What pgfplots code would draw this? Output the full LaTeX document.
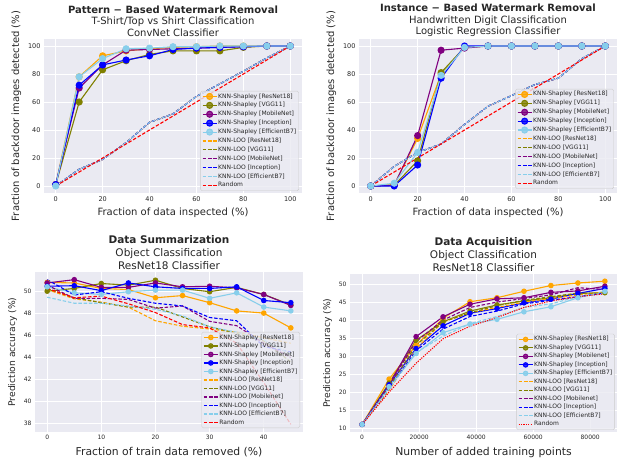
\documentclass[border=0pt]{standalone}
\usepackage{fontspec}
\setmainfont{DejaVu Sans}
\usepackage{pgfplots}
\pgfplotsset{compat=1.18}

\definecolor{sbbg}{HTML}{EAEAF2}
\definecolor{sbtext}{HTML}{262626}
\definecolor{cOrange}{HTML}{FFA500}
\definecolor{cOlive}{HTML}{808000}
\definecolor{cPurple}{HTML}{800080}
\definecolor{cBlue}{HTML}{0000FF}
\definecolor{cSky}{HTML}{87CEEB}
\definecolor{cRed}{HTML}{FF0000}

\pgfplotsset{
  sb/.style={
    scale only axis, anchor=south west,
    axis background/.style={fill=sbbg},
    axis line style={draw=none},
    major tick length=0pt,
    grid=major, major grid style={white, line width=0.9pt},
    /pgf/number format/assume math mode=true,
    tick label style={text=sbtext},
    label style={text=sbtext, font=\fontsize{10}{12}\selectfont},
    title style={text=sbtext, align=center, inner sep=0pt, at={(0.5,1)}, anchor=south, yshift=-4pt},
    legend cell align=left,
    legend style={fill=sbbg, fill opacity=0.8, text opacity=1, draw=black!20,
      rounded corners=1.5pt, text=sbtext, inner sep=1.5pt,
      font=\fontsize{6}{7}\selectfont,
      nodes={inner sep=1pt, text height=4.4pt, text depth=1.3pt}},
    legend image code/.code={\draw[mark repeat=2,mark phase=2]
      plot coordinates {(0pt,0pt) (7pt,0pt) (14pt,0pt)};},
  },
  shp/.style={color=#1, mark=*, line width=1.1pt, mark options={solid}},
  loo/.style={color=#1, line width=1.1pt, dash pattern=on 3.5pt off 1.8pt},
}

\begin{document}
\begin{tikzpicture}
\useasboundingbox (0,0) rectangle (621pt,459pt);

% ---------------- Pattern-based watermark removal
\begin{axis}[sb, at={(44pt,266pt)}, width=258pt, height=154pt,
  xmin=-5, xmax=105, ymin=-5, ymax=105,
  xtick={0,20,...,100}, ytick={0,20,...,100},
  tick label style={font=\fontsize{6.5}{7}\selectfont},
  every axis plot/.append style={mark size=3pt},
  xlabel={Fraction of data inspected (\%)},
  ylabel={Fraction of backdoor images detected (\%)},
  title style={font=\fontsize{10}{11.7}\selectfont},
  title={\textbf{Pattern − Based Watermark Removal}\\T-Shirt/Top vs Shirt Classification\\ConvNet Classifier},
  legend style={at={(rel axis cs:0.988,0.013)}, anchor=south east, row sep=1.2pt},
]
\addplot[shp=cOrange] coordinates {(0,1)(10,78)(20,93)(30,96.5)(40,98)(50,99)(60,99.5)(70,100)(80,100)(90,100)(100,100)};
\addlegendentry{KNN-Shapley [ResNet18]}
\addplot[shp=cOlive] coordinates {(0,1)(10,60)(20,83)(30,89.5)(40,94)(50,96.5)(60,96.5)(70,96.5)(80,99)(90,100)(100,100)};
\addlegendentry{KNN-Shapley [VGG11]}
\addplot[shp=cPurple] coordinates {(0,1)(10,70)(20,86.5)(30,97)(40,97.5)(50,98)(60,98.5)(70,99)(80,99.5)(90,100)(100,100)};
\addlegendentry{KNN-Shapley [MobileNet]}
\addplot[shp=cBlue] coordinates {(0,1)(10,72)(20,86.5)(30,90)(40,93)(50,97.5)(60,98.5)(70,99)(80,99.5)(90,100)(100,100)};
\addlegendentry{KNN-Shapley [Inception]}
\addplot[shp=cSky] coordinates {(0,0)(10,78)(20,91)(30,98)(40,98.5)(50,99.5)(60,99.5)(70,100)(80,100)(90,100)(100,100)};
\addlegendentry{KNN-Shapley [EfficientB7]}
\addplot[loo=cOrange] coordinates {(0,0)(10,12)(20,19)(30,31)(40,45.5)(50,51.5)(60,64)(70,73)(80,82)(90,91.5)(100,100)};
\addlegendentry{KNN-LOO [ResNet18]}
\addplot[loo=cOlive] coordinates {(0,0)(10,12)(20,19)(30,31)(40,45.5)(50,51.5)(60,64)(70,73)(80,82)(90,91.5)(100,100)};
\addlegendentry{KNN-LOO [VGG11]}
\addplot[loo=cPurple] coordinates {(0,0)(10,12)(20,19)(30,31)(40,45.5)(50,51.5)(60,64)(70,73)(80,82)(90,91.5)(100,100)};
\addlegendentry{KNN-LOO [MobileNet]}
\addplot[loo=cBlue] coordinates {(0,0)(10,12)(20,19)(30,31)(40,45.5)(50,51.5)(60,64)(70,73)(80,82)(90,91.5)(100,100)};
\addlegendentry{KNN-LOO [Inception]}
\addplot[loo=cSky] coordinates {(0,0)(10,12)(20,19)(30,31)(40,45.5)(50,51.5)(60,64)(70,73)(80,82)(90,91.5)(100,100)};
\addlegendentry{KNN-LOO [EfficientB7]}
\addplot[loo=cRed] coordinates {(0,0)(10,10)(20,20)(30,30)(40,40)(50,50)(60,60)(70,70)(80,80)(90,90)(100,100)};
\addlegendentry{Random}
\end{axis}

% ---------------- Instance-based watermark removal
\begin{axis}[sb, at={(359pt,266pt)}, width=258pt, height=154pt,
  xmin=-5, xmax=105, ymin=-5, ymax=105,
  xtick={0,20,...,100}, ytick={0,20,...,100},
  tick label style={font=\fontsize{6.5}{7}\selectfont},
  every axis plot/.append style={mark size=3pt},
  xlabel={Fraction of data inspected (\%)},
  ylabel={Fraction of backdoor images detected (\%)},
  title style={font=\fontsize{10}{11.7}\selectfont},
  title={\textbf{Instance − Based Watermark Removal}\\Handwritten Digit Classification\\Logistic Regression Classifier},
  legend style={at={(rel axis cs:0.988,0.026)}, anchor=south east, row sep=1.2pt},
]
\addplot[shp=cOrange] coordinates {(0,0)(10,1)(20,34)(30,80)(40,99)(50,100)(60,100)(70,100)(80,100)(90,100)(100,100)};
\addlegendentry{KNN-Shapley [ResNet18]}
\addplot[shp=cOlive] coordinates {(0,0)(10,0.5)(20,18)(30,81)(40,99)(50,100)(60,100)(70,100)(80,100)(90,100)(100,100)};
\addlegendentry{KNN-Shapley [VGG11]}
\addplot[shp=cPurple] coordinates {(0,0)(10,0.5)(20,36)(30,97)(40,98.5)(50,100)(60,100)(70,100)(80,100)(90,100)(100,100)};
\addlegendentry{KNN-Shapley [MobileNet]}
\addplot[shp=cBlue] coordinates {(0,0)(10,0)(20,15)(30,77)(40,100)(50,100)(60,100)(70,100)(80,100)(90,100)(100,100)};
\addlegendentry{KNN-Shapley [Inception]}
\addplot[shp=cSky] coordinates {(0,0)(10,2)(20,24)(30,79)(40,99)(50,100)(60,100)(70,100)(80,100)(90,100)(100,100)};
\addlegendentry{KNN-Shapley [EfficientB7]}
\addplot[loo=cOrange] coordinates {(0,0)(10,14)(20,24)(30,30)(40,44)(50,57)(60,64.5)(70,72.5)(80,77)(90,91)(100,100)};
\addlegendentry{KNN-LOO [ResNet18]}
\addplot[loo=cOlive] coordinates {(0,0)(10,14)(20,24)(30,30)(40,44)(50,57)(60,64.5)(70,72.5)(80,77)(90,91)(100,100)};
\addlegendentry{KNN-LOO [VGG11]}
\addplot[loo=cPurple] coordinates {(0,0)(10,14)(20,24)(30,30)(40,44)(50,57)(60,64.5)(70,72.5)(80,77)(90,91)(100,100)};
\addlegendentry{KNN-LOO [MobileNet]}
\addplot[loo=cBlue] coordinates {(0,0)(10,14)(20,24)(30,30)(40,44)(50,57)(60,64.5)(70,72.5)(80,77)(90,91)(100,100)};
\addlegendentry{KNN-LOO [Inception]}
\addplot[loo=cSky] coordinates {(0,0)(10,14)(20,24)(30,30)(40,44)(50,57)(60,64.5)(70,72.5)(80,77)(90,91)(100,100)};
\addlegendentry{KNN-LOO [EfficientB7]}
\addplot[loo=cRed] coordinates {(0,0)(10,10)(20,20)(30,30)(40,40)(50,50)(60,60)(70,70)(80,80)(90,90)(100,100)};
\addlegendentry{Random}
\end{axis}

% ---------------- Data summarization
\begin{axis}[sb, at={(35pt,27pt)}, width=268pt, height=160pt,
  xmin=-2.25, xmax=47.25, ymin=37.2, ymax=51.8,
  xtick={0,10,...,40}, ytick={38,40,...,50},
  tick label style={font=\fontsize{6}{7}\selectfont},
  every axis plot/.append style={mark size=2.2pt},
  xlabel={Fraction of train data removed (\%)},
  ylabel={Prediction accuracy (\%)},
  xlabel style={font=\fontsize{10.8}{12}\selectfont},
  ylabel style={font=\fontsize{9.2}{11}\selectfont},
  title style={font=\fontsize{10.5}{13}\selectfont},
  title={\textbf{Data Summarization}\\Object Classification\\ResNet18 Classifier},
  legend style={at={(rel axis cs:0.989,0.025)}, anchor=south east, row sep=0.8pt},
]
\addplot[shp=cOrange] coordinates {(0,50.85)(5,50.8)(10,50.3)(15,50.2)(20,49.45)(25,49.65)(30,49.0)(35,48.25)(40,48.05)(45,46.7)};
\addlegendentry{KNN-Shapley [ResNet18]}
\addplot[shp=cOlive] coordinates {(0,50.05)(5,50.3)(10,50.75)(15,50.6)(20,51.05)(25,50.3)(30,50.0)(35,50.4)(40,49.75)(45,48.8)};
\addlegendentry{KNN-Shapley [VGG11]}
\addplot[shp=cPurple] coordinates {(0,50.8)(5,51.1)(10,50.4)(15,50.4)(20,50.8)(25,50.45)(30,50.5)(35,50.35)(40,49.75)(45,48.75)};
\addlegendentry{KNN-Shapley [Mobilenet]}
\addplot[shp=cBlue] coordinates {(0,50.5)(5,50.55)(10,50.1)(15,50.8)(20,50.45)(25,50.3)(30,50.3)(35,50.45)(40,49.2)(45,49.0)};
\addlegendentry{KNN-Shapley [Inception]}
\addplot[shp=cSky] coordinates {(0,50.45)(5,49.9)(10,49.75)(15,50.0)(20,50.15)(25,50.15)(30,49.4)(35,49.9)(40,48.6)(45,48.25)};
\addlegendentry{KNN-Shapley [EfficientB7]}
\addplot[loo=cOrange] coordinates {(0,50.2)(5,49.35)(10,49.05)(15,48.6)(20,47.35)(25,46.85)(30,46.6)(35,46.3)(40,45.8)(45,45.3)};
\addlegendentry{KNN-LOO [ResNet18]}
\addplot[loo=cOlive] coordinates {(0,50.3)(5,49.45)(10,49.0)(15,48.6)(20,48.6)(25,47.7)(30,46.8)(35,46.2)(40,45.5)(45,43.6)};
\addlegendentry{KNN-LOO [VGG11]}
\addplot[loo=cPurple] coordinates {(0,50.6)(5,49.4)(10,49.4)(15,49.3)(20,48.5)(25,48.7)(30,47.3)(35,46.9)(40,45.3)(45,44.0)};
\addlegendentry{KNN-LOO [Mobilenet]}
\addplot[loo=cBlue] coordinates {(0,51.1)(5,49.7)(10,50.0)(15,49.4)(20,48.95)(25,48.7)(30,47.65)(35,47.35)(40,45.0)(45,44.5)};
\addlegendentry{KNN-LOO [Inception]}
\addplot[loo=cSky] coordinates {(0,49.5)(5,48.95)(10,48.95)(15,48.7)(20,48.4)(25,47.8)(30,46.8)(35,46.3)(40,45.6)(45,44.3)};
\addlegendentry{KNN-LOO [EfficientB7]}
\addplot[loo=cRed] coordinates {(0,50.3)(5,49.45)(10,49.6)(15,48.9)(20,48.1)(25,47.0)(30,46.7)(35,45.3)(40,41.7)(45,37.9)};
\addlegendentry{Random}
\end{axis}

% ---------------- Data acquisition
\begin{axis}[sb, at={(350pt,27pt)}, width=267pt, height=158pt,
  xmin=-4257, xmax=89406, ymin=8.9, ymax=52.8,
  xtick={0,20000,...,80000}, ytick={10,15,...,50},
  scaled x ticks=false,
  xticklabel style={/pgf/number format/1000 sep={}},
  tick label style={font=\fontsize{6}{7}\selectfont},
  every axis plot/.append style={mark size=2.2pt},
  xlabel={Number of added training points},
  ylabel={Prediction accuracy (\%)},
  xlabel style={font=\fontsize{10.8}{12}\selectfont},
  ylabel style={font=\fontsize{9.2}{11}\selectfont},
  title style={font=\fontsize{10.5}{13}\selectfont},
  title={\textbf{Data Acquisition}\\Object Classification\\ResNet18 Classifier},
  legend style={at={(rel axis cs:0.992,0.013)}, anchor=south east, row sep=0.8pt},
]
\addplot[shp=cOrange] coordinates {(0,11)(9461,23.6)(18922,33)(28383,40.5)(37844,45.1)(47305,46.2)(56766,48.0)(66227,49.6)(75688,50.3)(85149,50.8)};
\addlegendentry{KNN-Shapley [ResNet18]}
\addplot[shp=cOlive] coordinates {(0,11)(9461,22.5)(18922,34.4)(28383,39.5)(37844,42.5)(47305,44.2)(56766,45.3)(66227,46.2)(75688,47.4)(85149,47.6)};
\addlegendentry{KNN-Shapley [VGG11]}
\addplot[shp=cPurple] coordinates {(0,11)(9461,22)(18922,35.4)(28383,40.9)(37844,44.4)(47305,45.9)(56766,46.2)(66227,47.7)(75688,48.1)(85149,49.4)};
\addlegendentry{KNN-Shapley [Mobilenet]}
\addplot[shp=cBlue] coordinates {(0,11)(9461,22)(18922,32.1)(28383,38.4)(37844,41.9)(47305,43.2)(56766,44.8)(66227,45.8)(75688,47.4)(85149,48.8)};
\addlegendentry{KNN-Shapley [Inception]}
\addplot[shp=cSky] coordinates {(0,11)(9461,21.5)(18922,30.7)(28383,36.5)(37844,38.9)(47305,40.2)(56766,42.3)(66227,43.7)(75688,46.2)(85149,48.0)};
\addlegendentry{KNN-Shapley [EfficientB7]}
\addplot[loo=cOrange] coordinates {(0,11)(9461,20.5)(18922,32)(28383,39.5)(37844,42)(47305,43.5)(56766,45)(66227,46)(75688,47)(85149,47.8)};
\addlegendentry{KNN-LOO [ResNet18]}
\addplot[loo=cOlive] coordinates {(0,11)(9461,21.5)(18922,33)(28383,39.5)(37844,42)(47305,44)(56766,45.5)(66227,46.5)(75688,47.5)(85149,47.5)};
\addlegendentry{KNN-LOO [VGG11]}
\addplot[loo=cPurple] coordinates {(0,11)(9461,22)(18922,34)(28383,40)(37844,43.5)(47305,45)(56766,46)(66227,47)(75688,49)(85149,48.5)};
\addlegendentry{KNN-LOO [Mobilenet]}
\addplot[loo=cBlue] coordinates {(0,11)(9461,21)(18922,31.5)(28383,37.5)(37844,41)(47305,42.5)(56766,44.5)(66227,45.5)(75688,46.5)(85149,47.5)};
\addlegendentry{KNN-LOO [Inception]}
\addplot[loo=cSky] coordinates {(0,11)(9461,21)(18922,31)(28383,35.5)(37844,39)(47305,41)(56766,43.5)(66227,44.5)(75688,46.5)(85149,47.5)};
\addlegendentry{KNN-LOO [EfficientB7]}
\addplot[color=cRed, line width=1.1pt, dash pattern=on 1.2pt off 1.2pt] coordinates {(0,11)(9461,20)(18922,28)(28383,34.8)(37844,38.3)(47305,40.7)(56766,43.5)(66227,45.3)(75688,46.5)(85149,47.3)};
\addlegendentry{Random}
\end{axis}
\end{tikzpicture}
\end{document}
